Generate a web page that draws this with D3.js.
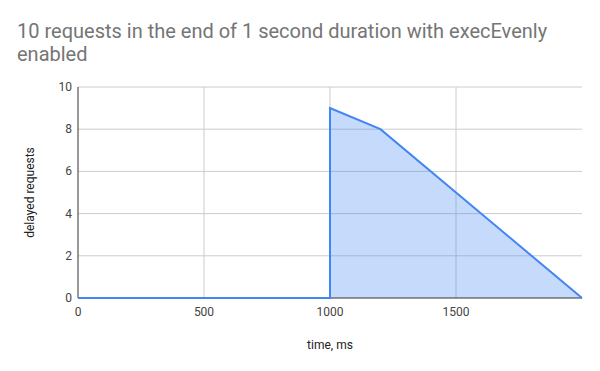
<!DOCTYPE html>
<html>
<head>
<meta charset="utf-8">
<script src="https://cdn.jsdelivr.net/npm/d3@7"></script>
<style>
  body { margin: 0; background: #fff; }
  svg { font-family: Roboto, Arial, sans-serif; }
</style>
</head>
<body>
<svg width="600" height="371"></svg>
<script>
var TIMES    = [0, 1000, 1000, 1200, 2000],
    DELAYED  = [0, 0, 9, 8, 0],
    X_TICKS  = [0, 500, 1000, 1500],
    Y_TICKS  = [0, 2, 4, 6, 8, 10],
    TITLE    = ["10 requests in the end of 1 second duration with execEvenly", "enabled"];

var svg    = d3.select("svg"),
    margin = {left: 78, right: 18, top: 87, bottom: 73},
    width  = 600 - margin.left - margin.right,
    height = 371 - margin.top - margin.bottom,
    x      = d3.scaleLinear().domain([0, 2000]).range([margin.left, margin.left + width]),
    y      = d3.scaleLinear().domain([0, 10]).range([margin.top + height, margin.top]),
    data   = TIMES.map((t, i) => [t, DELAYED[i]]);

// title
svg.append("text")
  .attr("x", 17).attr("y", 38)
  .style("font-size", "20px").style("fill", "#757575")
  .selectAll("tspan").data(TITLE).enter().append("tspan")
    .attr("x", 17).attr("dy", (d, i) => i ? 23 : 0)
    .text(d => d);

// grid
svg.append("g").selectAll("line").data(Y_TICKS.slice(1)).enter().append("line")
  .attr("x1", x(0)).attr("x2", x(2000))
  .attr("y1", d => y(d)).attr("y2", d => y(d))
  .attr("stroke", "#cccccc");
svg.append("g").selectAll("line").data(X_TICKS.slice(1)).enter().append("line")
  .attr("x1", d => x(d)).attr("x2", d => x(d))
  .attr("y1", y(0)).attr("y2", y(10))
  .attr("stroke", "#cccccc");

// area
svg.append("path").datum(data)
  .attr("fill", "#4285f4").attr("fill-opacity", 0.3)
  .attr("d", d3.area().x(d => x(d[0])).y0(y(0)).y1(d => y(d[1])));

// axes lines
svg.append("line")
  .attr("x1", x(0)).attr("x2", x(0)).attr("y1", y(0)).attr("y2", y(10))
  .attr("stroke", "#333333");
svg.append("line")
  .attr("x1", x(0)).attr("x2", x(2000)).attr("y1", y(0)).attr("y2", y(0))
  .attr("stroke", "#333333");

// line on top
svg.append("path").datum(data)
  .attr("fill", "none").attr("stroke", "#4285f4").attr("stroke-width", 2)
  .attr("d", d3.line().x(d => x(d[0])).y(d => y(d[1])));

// tick labels
svg.append("g").selectAll("text").data(Y_TICKS).enter().append("text")
  .attr("x", x(0) - 6).attr("y", d => y(d) + 4)
  .attr("text-anchor", "end")
  .style("font-size", "12px").style("fill", "#444")
  .text(d => d);
svg.append("g").selectAll("text").data(X_TICKS).enter().append("text")
  .attr("x", d => x(d)).attr("y", y(0) + 18)
  .attr("text-anchor", "middle")
  .style("font-size", "12px").style("fill", "#444")
  .text(d => d);

// axis titles
svg.append("text")
  .attr("x", x(1000)).attr("y", 349)
  .attr("text-anchor", "middle")
  .style("font-size", "12px").style("fill", "#222")
  .text("time, ms");
svg.append("text")
  .attr("transform", "translate(34," + y(5) + ") rotate(-90)")
  .attr("text-anchor", "middle")
  .style("font-size", "12px").style("fill", "#222")
  .text("delayed requests");
</script>
</body>
</html>
